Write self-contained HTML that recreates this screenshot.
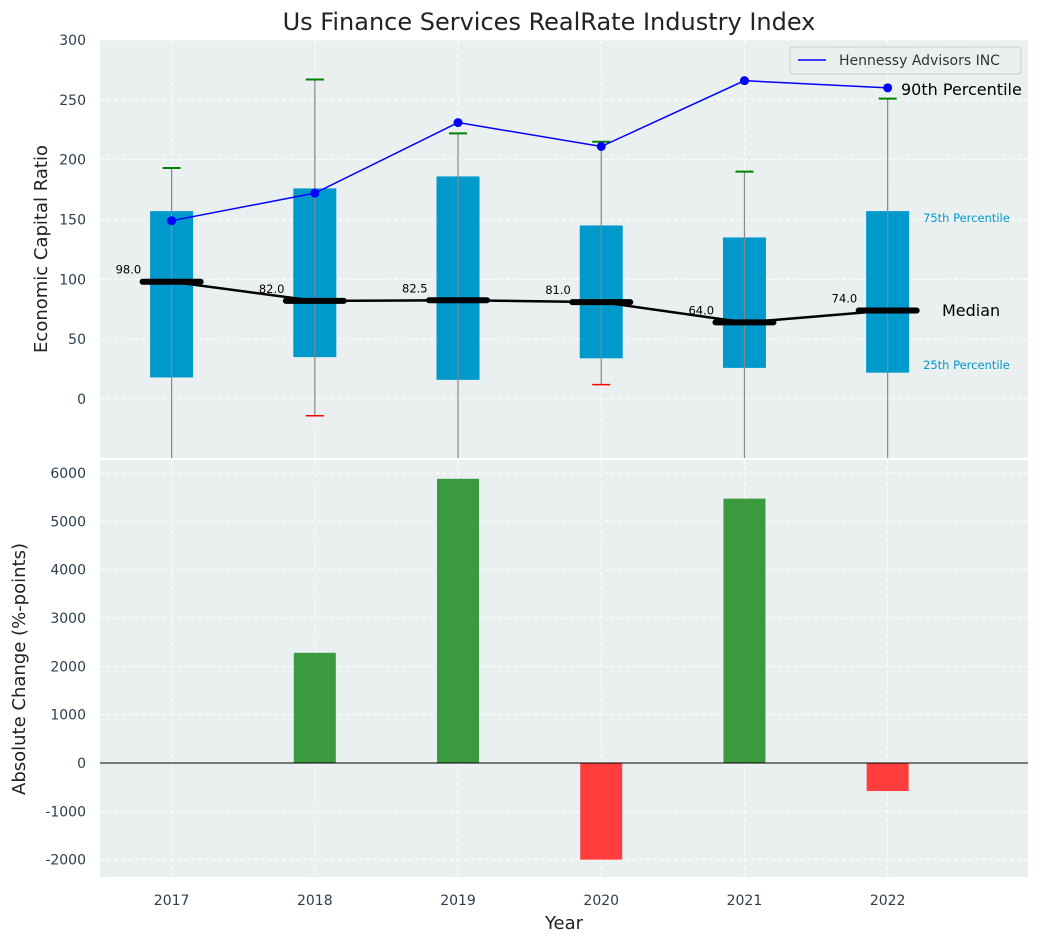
<!DOCTYPE html>
<html><head><meta charset="utf-8"><style>
body{margin:0;background:#fff;font-family:"Liberation Sans","DejaVu Sans",sans-serif}
svg text{font-family:"DejaVu Sans","Liberation Sans",sans-serif}
</style></head><body>
<svg id="c" width="1039" height="942" xmlns="http://www.w3.org/2000/svg"></svg>
<script>
const years=[2017,2018,2019,2020,2021,2022];
const q1=[18,35,16,34,26,22];
const q3=[157,176,186,145,135,157];
const whiskHigh=[193,267,222,215,190,251];
const whiskLow=[-80,-14,-80,12,-80,-80];
const lowCapShown=[false,true,false,true,false,false];
const medians=[98,82,82.5,81,64,74];
const company=[149,172,231,211,266,260];
const changes=[0,2280,5880,-2000,5470,-580];
const topTicks=[0,50,100,150,200,250,300];
const botTicks=[-2000,-1000,0,1000,2000,3000,4000,5000,6000];

const NS="http://www.w3.org/2000/svg";
const svg=document.getElementById('c');
function el(t,a,txt,p){const e=document.createElementNS(NS,t);for(const k in a)e.setAttribute(k,a[k]);if(txt!=null)e.textContent=txt;(p||svg).appendChild(e);return e;}
const L=100,R=1028;
const xs=v=>L+(v-2016.5)/(6.48)*(R-L);
const yT=v=>399-v*(359/300);
const yB=v=>763-v*(290/6000);

// panels
let p=el('rect',{x:L,y:40,width:R-L,height:418,fill:'#eaeff0'});

p=el('rect',{x:L,y:460,width:R-L,height:417,fill:'#eaeff0'});


const clipT=el('clipPath',{id:'ct'});el('rect',{x:L,y:40,width:R-L,height:418},null,clipT);

// grids
topTicks.forEach(t=>{const y=yT(t);el('line',{x1:L,x2:R,y1:y,y2:y,stroke:'#fff','stroke-dasharray':'4,3'});
 const tx=el('text',{x:86,y:y+5,'text-anchor':'end','font-size':14,fill:'#2c3e50'},t);
 });
botTicks.forEach(t=>{const y=yB(t);el('line',{x1:L,x2:R,y1:y,y2:y,stroke:'#fff','stroke-dasharray':'4,3'});
 const tx=el('text',{x:86,y:y+5,'text-anchor':'end','font-size':14,fill:'#2c3e50'},t);
 });
years.forEach(yr=>{const x=xs(yr);
 el('line',{x1:x,x2:x,y1:40,y2:458,stroke:'#fff','stroke-dasharray':'4,3'});
 el('line',{x1:x,x2:x,y1:460,y2:877,stroke:'#fff','stroke-dasharray':'4,3'});
 const tx=el('text',{x:x,y:905,'text-anchor':'middle','font-size':14,fill:'#2c3e50'},yr);
 });

const g=el('g',{'clip-path':'url(#ct)'});
years.forEach((yr,i)=>{const x=xs(yr),w=43;
 const b=el('rect',{x:x-w/2,y:yT(q3[i]),width:w,height:yT(q1[i])-yT(q3[i]),fill:'#0099cc'},null,g);
 
 el('line',{x1:x,x2:x,y1:yT(whiskHigh[i]),y2:yT(whiskLow[i]),stroke:'#888','stroke-width':1.2},null,g);
 el('line',{x1:x-9,x2:x+9,y1:yT(whiskHigh[i]),y2:yT(whiskHigh[i]),stroke:'green','stroke-width':2},null,g);
 if(lowCapShown[i])el('line',{x1:x-9,x2:x+9,y1:yT(whiskLow[i]),y2:yT(whiskLow[i]),stroke:'red','stroke-width':1.5},null,g);
});
// median line
el('polyline',{points:years.map((yr,i)=>xs(yr)+','+yT(medians[i])).join(' '),fill:'none',stroke:'#000','stroke-width':2.5});
years.forEach((yr,i)=>{const x=xs(yr),y=yT(medians[i]);
 const m=el('line',{x1:x-29,x2:x+29,y1:y,y2:y,stroke:'#000','stroke-width':6,'stroke-linecap':'round'});
 
 el('text',{x:x-56,y:y-8,'font-size':11.5,fill:'#000'},medians[i].toFixed(1));});
// company line
el('polyline',{points:years.map((yr,i)=>xs(yr)+','+yT(company[i])).join(' '),fill:'none',stroke:'blue','stroke-width':1.5});
years.forEach((yr,i)=>{const d=el('circle',{cx:xs(yr),cy:yT(company[i]),r:4.5,fill:'blue'});
 });
el('text',{x:901,y:95,'font-size':16,fill:'#000'},'90th Percentile');
el('text',{x:923,y:222,'font-size':11.5,fill:'#0099cc'},'75th Percentile');
el('text',{x:923,y:369,'font-size':11.5,fill:'#0099cc'},'25th Percentile');
el('text',{x:942,y:316,'font-size':16,fill:'#000'},'Median');
// legend
const lg=el('g',{});
el('rect',{x:790,y:47,width:231,height:27,fill:'#eaeff0',stroke:'#ccc',rx:3},null,lg);
el('line',{x1:798,x2:826,y1:60,y2:60,stroke:'blue','stroke-width':1.5},null,lg);
el('text',{x:839,y:65,'font-size':14,fill:'#333'},'Hennessy Advisors INC',lg);

// bars
years.forEach((yr,i)=>{const x=xs(yr),v=changes[i];if(v===0)return;
 const r=el('rect',{x:x-21,y:Math.min(yB(v),yB(0)),width:42,height:Math.abs(yB(v)-yB(0)),fill:v>0?'#3a9a3d':'#ff3d3d'});
 });
el('line',{x1:L,x2:R,y1:yB(0),y2:yB(0),stroke:'#000','stroke-width':1});

// titles
let t=el('text',{x:549,y:30,'text-anchor':'middle','font-size':24,fill:'#222'},'Us Finance Services RealRate Industry Index');

t=el('text',{x:0,y:0,'text-anchor':'middle','font-size':18,fill:'#222',transform:'translate(47,249) rotate(-90)'},'Economic Capital Ratio');

t=el('text',{x:0,y:0,'text-anchor':'middle','font-size':18,fill:'#222',transform:'translate(25,669) rotate(-90)'},'Absolute Change (%-points)');

t=el('text',{x:564,y:929,'text-anchor':'middle','font-size':18,fill:'#222'},'Year');

</script>
</body></html>
